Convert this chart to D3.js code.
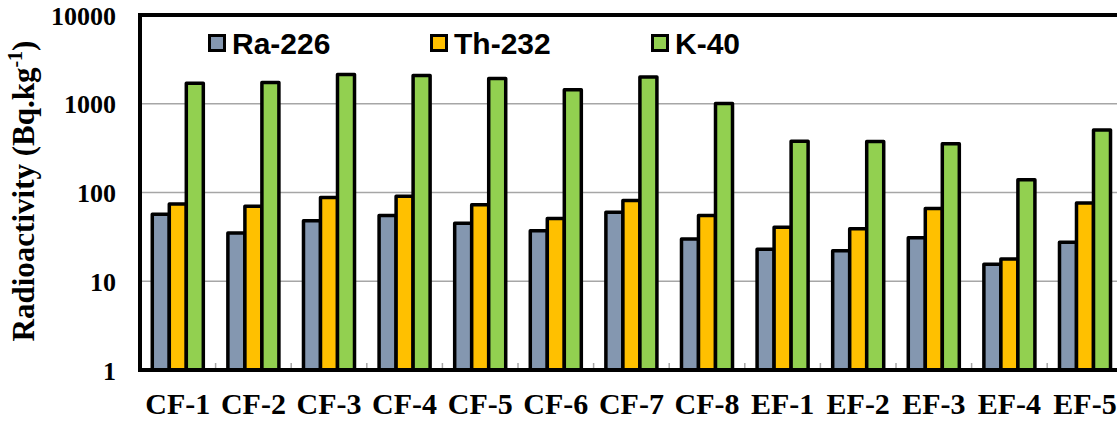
<!DOCTYPE html>
<html>
<head>
<meta charset="utf-8">
<script src="https://cdn.jsdelivr.net/npm/d3@7"></script>
<style>
  html, body { margin: 0; padding: 0; background: #fff; }
  svg { display: block; }
</style>
</head>
<body>
<svg id="chart" width="1117" height="421"></svg>
<script>
// Sample sites
const categories = ["CF-1", "CF-2", "CF-3", "CF-4", "CF-5", "CF-6", "CF-7", "CF-8",
                    "EF-1", "EF-2", "EF-3", "EF-4", "EF-5"];
// Activity concentrations (Bq/kg)
const ra226 = [57, 35, 48, 55, 45, 37, 60, 30, 23, 22, 31, 15.5, 27.5];
const th232 = [74, 70, 88, 91, 73, 51, 81, 55, 40.5, 39, 66, 17.8, 76];
const k40   = [1700, 1730, 2130, 2080, 1920, 1440, 2000, 1005, 377, 375, 355, 139, 505];
const seriesNames = ["Ra-226", "Th-232", "K-40"];
const seriesColors = ["#8497B0", "#FFC000", "#92D050"];
const yTicks = [1, 10, 100, 1000, 10000];

const seriesValues = [ra226, th232, k40];

const svg = d3.select("#chart");
const plotLeft = 140, plotTop = 15, plotBottom = 370;
const step = 75.6;
const plotRight = plotLeft + step * categories.length;

const x = d3.scaleBand().domain(categories).range([plotLeft, plotRight])
  .paddingInner(0.325).paddingOuter(0.1625);
const xs = d3.scaleBand().domain(seriesNames).range([0, x.bandwidth()]).padding(0);
const y = d3.scaleLog().domain([1, 10000]).range([plotBottom, plotTop]);

// Horizontal gridlines
svg.append("g").selectAll("line")
  .data(yTicks.filter(t => t > 1 && t < 10000))
  .join("line")
  .attr("x1", plotLeft).attr("x2", plotRight)
  .attr("y1", d => y(d)).attr("y2", d => y(d))
  .attr("stroke", "#a6a6a6").attr("stroke-width", 1.5);

// Category separators on the bottom axis
svg.append("g").selectAll("line")
  .data(categories.slice(1))
  .join("line")
  .attr("x1", d => x(d) - x.step() * x.paddingInner() / 2)
  .attr("x2", d => x(d) - x.step() * x.paddingInner() / 2)
  .attr("y1", plotBottom).attr("y2", plotBottom - 7)
  .attr("stroke", "#a6a6a6").attr("stroke-width", 1.5);

// Bars
const groups = svg.append("g").selectAll("g")
  .data(categories)
  .join("g")
  .attr("transform", d => `translate(${x(d)},0)`);

groups.selectAll("rect")
  .data((d, i) => seriesNames.map((s, j) => ({ s, v: seriesValues[j][i], c: seriesColors[j] })))
  .join("rect")
  .attr("x", d => xs(d.s))
  .attr("width", xs.bandwidth())
  .attr("y", d => y(d.v))
  .attr("height", d => y(1) - y(d.v))
  .attr("fill", d => d.c)
  .attr("stroke", "#000")
  .attr("stroke-width", 3.5)
  .attr("stroke-linejoin", "round");

// Plot frame
svg.append("rect")
  .attr("x", plotLeft).attr("y", plotTop)
  .attr("width", plotRight - plotLeft).attr("height", plotBottom - plotTop)
  .attr("fill", "none").attr("stroke", "#000").attr("stroke-width", 4);

// Y axis labels
const yAxis = d3.axisLeft(y).tickValues(yTicks).tickFormat(d3.format("d")).tickSize(0).tickPadding(0);
const ya = svg.append("g").attr("transform", `translate(116,0)`).call(yAxis);
ya.select(".domain").remove();
ya.selectAll("text")
  .attr("font-family", "'Liberation Serif', 'Times New Roman', serif")
  .attr("font-weight", "bold").attr("font-size", 26).attr("fill", "#000")
  .attr("dy", "0.35em");

// X axis labels
const xAxis = d3.axisBottom(x).tickSize(0).tickPadding(0);
const xa = svg.append("g").attr("transform", `translate(0,${plotBottom})`).call(xAxis);
xa.select(".domain").remove();
xa.selectAll("text")
  .attr("font-family", "'Liberation Serif', 'Times New Roman', serif")
  .attr("font-weight", "bold").attr("font-size", 30).attr("fill", "#000")
  .attr("y", 44).attr("dy", 0);

// Y axis title
const title = svg.append("text")
  .attr("transform", "translate(34,191) rotate(-90)")
  .attr("text-anchor", "middle")
  .attr("font-family", "'Liberation Serif', 'Times New Roman', serif")
  .attr("font-weight", "bold").attr("font-size", 31).attr("fill", "#000");
title.append("tspan").text("Radioactivity (Bq.kg");
title.append("tspan").attr("font-size", 20).attr("dy", -12).text("-1");
title.append("tspan").attr("dy", 12).text(")");

// Legend
const legendX = [208, 430, 651];
const legend = svg.append("g").selectAll("g")
  .data(seriesNames)
  .join("g")
  .attr("transform", (d, i) => `translate(${legendX[i]},34)`);
legend.append("rect")
  .attr("x", 1.5).attr("y", 1.5).attr("width", 15).attr("height", 15)
  .attr("fill", (d, i) => seriesColors[i])
  .attr("stroke", "#000").attr("stroke-width", 3);
legend.append("text")
  .attr("x", 24).attr("y", 19.5)
  .attr("font-family", "'Liberation Sans', Arial, sans-serif")
  .attr("font-weight", "bold").attr("font-size", 30).attr("fill", "#000")
  .text(d => d);
</script>
</body>
</html>
